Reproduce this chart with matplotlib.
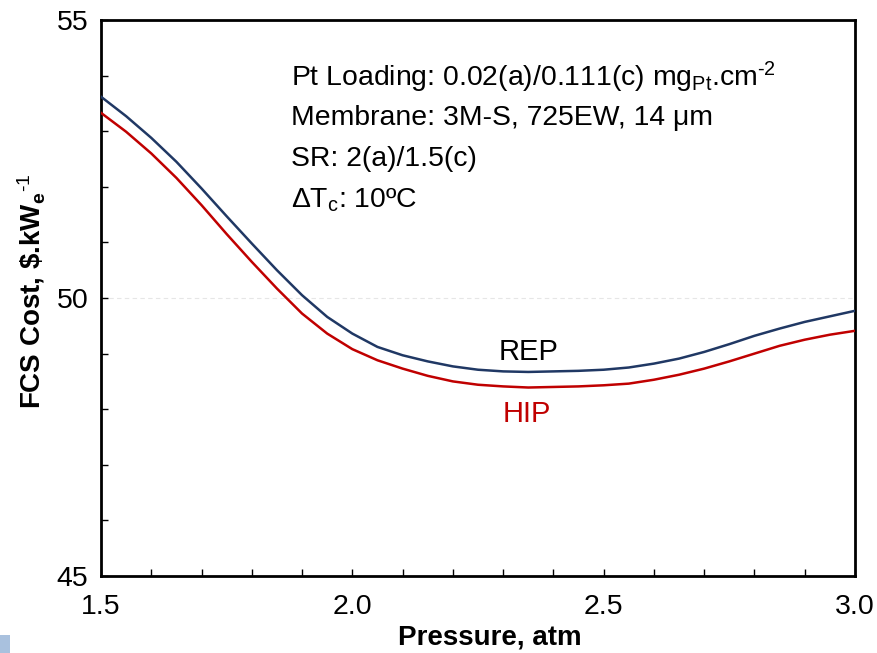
import matplotlib
matplotlib.use("Agg")
import matplotlib.pyplot as plt
from matplotlib.ticker import MultipleLocator
from matplotlib.patches import Rectangle

plt.rcParams['font.family'] = ['Liberation Sans', 'DejaVu Sans']
plt.rcParams['mathtext.fontset'] = 'custom'
plt.rcParams['mathtext.rm'] = 'Liberation Sans'
plt.rcParams['mathtext.it'] = 'Liberation Sans:italic'
plt.rcParams['mathtext.bf'] = 'Liberation Sans:bold'

# Data
pressure = [1.50, 1.55, 1.60, 1.65, 1.70, 1.75, 1.80, 1.85, 1.90, 1.95,
            2.00, 2.05, 2.10, 2.15, 2.20, 2.25, 2.30, 2.35, 2.40, 2.45,
            2.50, 2.55, 2.60, 2.65, 2.70, 2.75, 2.80, 2.85, 2.90, 2.95, 3.00]
rep_cost = [53.62, 53.27, 52.88, 52.45, 51.97, 51.47, 50.98, 50.50, 50.05, 49.66,
            49.36, 49.12, 48.97, 48.86, 48.77, 48.71, 48.68, 48.67, 48.68, 48.69,
            48.71, 48.75, 48.82, 48.91, 49.03, 49.17, 49.32, 49.45, 49.57, 49.67, 49.77]
hip_cost = [53.33, 52.99, 52.60, 52.16, 51.67, 51.15, 50.65, 50.17, 49.72, 49.36,
            49.08, 48.88, 48.73, 48.60, 48.50, 48.44, 48.41, 48.39, 48.40, 48.41,
            48.43, 48.46, 48.53, 48.62, 48.73, 48.86, 49.00, 49.14, 49.25, 49.34, 49.41]
series_names = ["REP", "HIP"]
x_ticks = [1.5, 2.0, 2.5, 3.0]
x_ticklabels = ["1.5", "2.0", "2.5", "3.0"]
y_ticks = [45, 50, 55]
y_ticklabels = ["45", "50", "55"]
annotation_lines = [
    r"Pt Loading: 0.02(a)/0.111(c) mg$_{\mathrm{Pt}}$.cm$^{\text{-2}}$",
    "Membrane: 3M-S, 725EW, 14 μm",
    "SR: 2(a)/1.5(c)",
    r"ΔT$_{\mathrm{c}}$: 10ºC",
]

navy = "#203864"
red = "#c00000"

fig = plt.figure(figsize=(8.77, 6.53), dpi=100)
ax = fig.add_axes([101/877, 1-576/653, (855-101)/877, (576-20)/653])

ax.plot(pressure, rep_cost, color=navy, lw=1.8, zorder=3, solid_joinstyle='round')
ax.plot(pressure, hip_cost, color=red, lw=1.8, zorder=3, solid_joinstyle='round')

ax.set_xlim(1.5, 3.0)
ax.set_ylim(45, 55)
ax.set_xticks(x_ticks)
ax.set_xticklabels(x_ticklabels)
ax.set_yticks(y_ticks)
ax.set_yticklabels(y_ticklabels)
ax.xaxis.set_minor_locator(MultipleLocator(0.1))
ax.yaxis.set_minor_locator(MultipleLocator(1))
ax.tick_params(axis='both', which='both', direction='in', length=5, width=1.0,
               top=False, right=False, labelsize=20.5, colors='black')
ax.tick_params(axis='x', which='major', pad=13)
ax.tick_params(axis='y', which='major', pad=9)

ax.yaxis.grid(True, which='major', color='#e6e6e6', ls=(0, (4, 3)), lw=0.8)
ax.set_axisbelow(True)

for s in ax.spines.values():
    s.set_linewidth(2.0)
    s.set_color('black')

ax.set_xlabel("Pressure, atm", fontsize=20, fontweight='bold', labelpad=3.5)
ax.xaxis.label.set_x(0.5 + 12/754)
ax.set_ylabel(r"FCS Cost, \$.kW$_{\mathbf{e}}$$^{\text{-1}}$", fontsize=20,
              fontweight='bold', labelpad=7)
ax.yaxis.label.set_y(0.5 + 7/556)

y0 = 53.96
for i, line in enumerate(annotation_lines):
    ax.text(1.878, y0 - i * 0.73, line, fontsize=20.4, va='center', ha='left',
            color='black')

ax.text(2.351, 49.03, series_names[0], fontsize=21, ha='center',
        va='center', color='black')
ax.text(2.347, 47.92, series_names[1], fontsize=21, ha='center',
        va='center', color=red)

fig.patches.append(Rectangle((0, 0), 10/877, 18/653, transform=fig.transFigure,
                             facecolor='#a9c1de', edgecolor='none'))

fig.savefig("out.png", dpi=100)
